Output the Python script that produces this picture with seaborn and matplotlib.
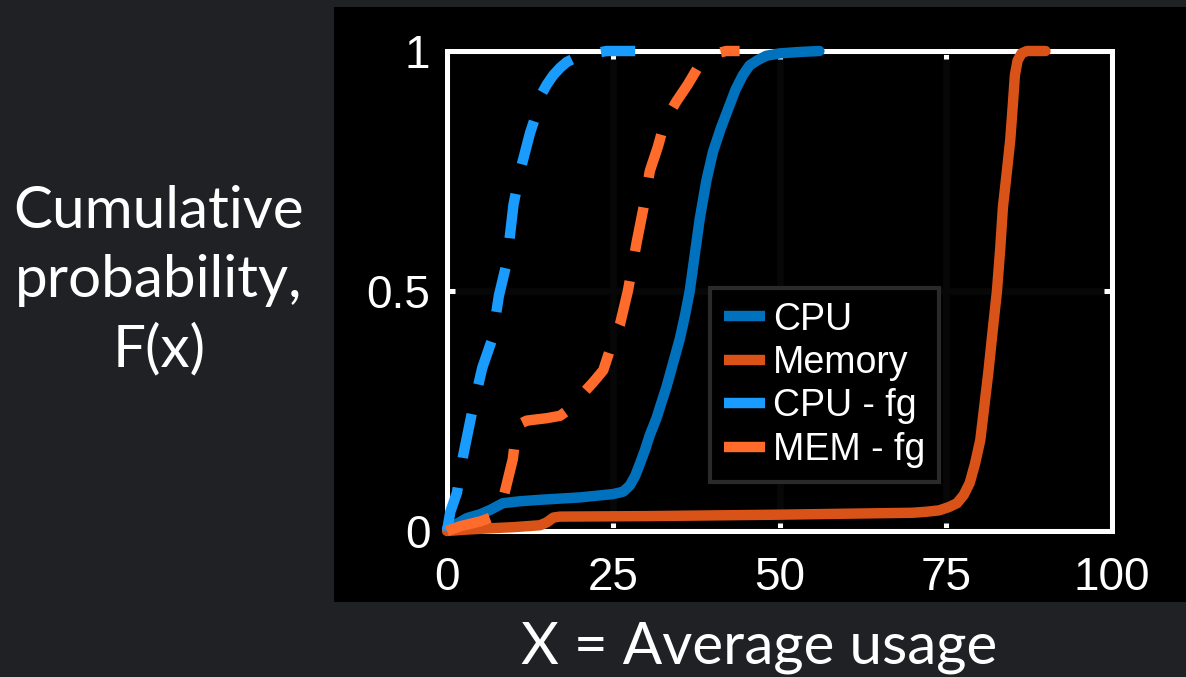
import matplotlib
matplotlib.use("Agg")
import matplotlib.pyplot as plt
import seaborn as sns
from matplotlib.patches import Rectangle

# Empirical CDFs of average resource usage (x in %, F(x) in [0, 1])
cpu_x = [0, 1.5, 3, 5, 6.5, 8.4, 11, 14, 20, 25, 26.5, 27.5, 28.3, 29, 29.8,
         30.5, 31.5, 32.3, 33, 34, 35, 35.8, 36.5, 37.2, 38, 39, 40, 41.2,
         42.3, 43.4, 44.5, 45.5, 46.6, 48, 50, 53, 56]
cpu_y = [0.005, 0.015, 0.027, 0.035, 0.044, 0.058, 0.062, 0.065, 0.07, 0.077,
         0.082, 0.095, 0.115, 0.14, 0.17, 0.2, 0.235, 0.27, 0.3, 0.35, 0.4,
         0.45, 0.5, 0.57, 0.65, 0.73, 0.79, 0.84, 0.88, 0.92, 0.95, 0.97,
         0.98, 0.99, 0.995, 0.998, 1.0]

mem_x = [0, 3, 7, 10, 14, 15, 16, 17, 30, 50, 70, 72, 74, 75.5, 76.7, 77.7,
         78.6, 79.4, 80.2, 80.8, 81.4, 82, 82.7, 83.2, 83.6, 84.2, 84.7, 85.1,
         85.4, 85.8, 86.4, 87.2, 90]
mem_y = [0, 0.003, 0.006, 0.008, 0.012, 0.018, 0.028, 0.03, 0.031, 0.034,
         0.038, 0.04, 0.043, 0.05, 0.058, 0.075, 0.1, 0.14, 0.19, 0.26, 0.33,
         0.41, 0.5, 0.59, 0.675, 0.75, 0.815, 0.89, 0.95, 0.98, 0.995, 1.0,
         1.0]

cpu_fg_x = [0, 0.5, 1.5, 2.4, 3.8, 5.3, 6.8, 7.8, 9, 10, 11, 12.5, 13.7,
            14.2, 15, 16, 17, 18, 19.2, 20.5, 22, 24, 28.3]
cpu_fg_y = [0, 0.04, 0.08, 0.155, 0.25, 0.34, 0.40, 0.49, 0.56, 0.68, 0.75,
            0.83, 0.88, 0.91, 0.93, 0.95, 0.965, 0.977, 0.985, 0.99, 0.995,
            1.0, 1.0]

mem_fg_x = [0, 2, 5, 7, 8.4, 9.9, 10.5, 12, 15, 17, 18.5, 20, 22, 23.5, 24.8,
            26, 27.2, 28.5, 29.5, 30.5, 31.7, 32.8, 34.5, 36.2, 37.7, 39,
            40.5, 42, 44]
mem_fg_y = [0, 0.01, 0.02, 0.03, 0.065, 0.15, 0.22, 0.23, 0.235, 0.24, 0.255,
            0.28, 0.31, 0.335, 0.39, 0.43, 0.5, 0.6, 0.67, 0.75, 0.8, 0.855,
            0.895, 0.93, 0.965, 0.985, 0.995, 1.0, 1.0]

labels = ["CPU", "Memory", "CPU - fg", "MEM - fg"]
colors = ["#0072BD", "#D95319", "#1a9cff", "#ff6b2b"]
x_ticks = [0, 25, 50, 75, 100]
y_ticks = [0, 0.5, 1]
y_tick_labels = ["0", "0.5", "1"]

sns.set_theme(style="white")
plt.rcParams["font.family"] = ["Liberation Sans", "DejaVu Sans"]

W, H = 1186, 677
fig = plt.figure(figsize=(W / 100, H / 100), dpi=100, facecolor="#1f2125")

# black panel behind the plot
fig.add_artist(Rectangle((334 / W, 1 - 602 / H), 1 - 334 / W, (602 - 7) / H,
                         transform=fig.transFigure, facecolor="black",
                         edgecolor="none", zorder=0))

ax = fig.add_axes([447 / W, 1 - 531 / H, (1112 - 447) / W, (531 - 51) / H])
ax.set_facecolor("black")

dash = (0, (4.3, 2.9))
series = [
    (cpu_x, cpu_y, labels[0], colors[0], "-"),
    (mem_x, mem_y, labels[1], colors[1], "-"),
    (cpu_fg_x, cpu_fg_y, labels[2], colors[2], dash),
    (mem_fg_x, mem_fg_y, labels[3], colors[3], dash),
]
for xs, ys, name, color, ls in series:
    sns.lineplot(x=xs, y=ys, ax=ax, color=color, linewidth=7.5, linestyle=ls,
                 label=name, estimator=None, clip_on=False, zorder=3,
                 solid_joinstyle="round", dash_joinstyle="round",
                 solid_capstyle="round")

ax.set_xlim(0, 100)
ax.set_ylim(0, 1)
ax.set_xticks(x_ticks)
ax.set_xticklabels([str(t) for t in x_ticks])
ax.set_yticks(y_ticks)
ax.set_yticklabels(y_tick_labels)
ax.set_xlabel("")
ax.set_ylabel("")

ax.grid(True, color="#070707", linewidth=5)
ax.set_axisbelow(True)
for sp in ax.spines.values():
    sp.set_color("white")
    sp.set_linewidth(3.6)
    sp.set_visible(True)
ax.tick_params(direction="in", length=5.5, width=3.6, color="white",
               labelcolor="white", labelsize=33, pad=12,
               top=True, right=True, bottom=True, left=True)
ax.tick_params(axis="x", pad=18)

leg = ax.legend(loc="upper left", bbox_to_anchor=(710 / W, 1 - 288 / H),
                bbox_transform=fig.transFigure, borderaxespad=0,
                fontsize=27, labelcolor="white", facecolor="black",
                edgecolor="#2a2a2a", framealpha=1, fancybox=False,
                handlelength=1.1, handletextpad=0.22, borderpad=0.36,
                labelspacing=0.2)
leg.get_frame().set_linewidth(3)
for h in leg.get_lines():
    h.set_linestyle("-")
    h.set_solid_capstyle("butt")

fig.text(159 / W, 1 - 281 / H, "Cumulative\nprobability,\nF(x)",
         ha="center", va="center", multialignment="center",
         fontsize=42, color="white", family="Lato", linespacing=1.36)
fig.text(759 / W, 1 - 664 / H, "X = Average usage", ha="center",
         va="baseline", fontsize=42, color="white", family="Lato")

fig.savefig("out.png", dpi=100, facecolor=fig.get_facecolor())
